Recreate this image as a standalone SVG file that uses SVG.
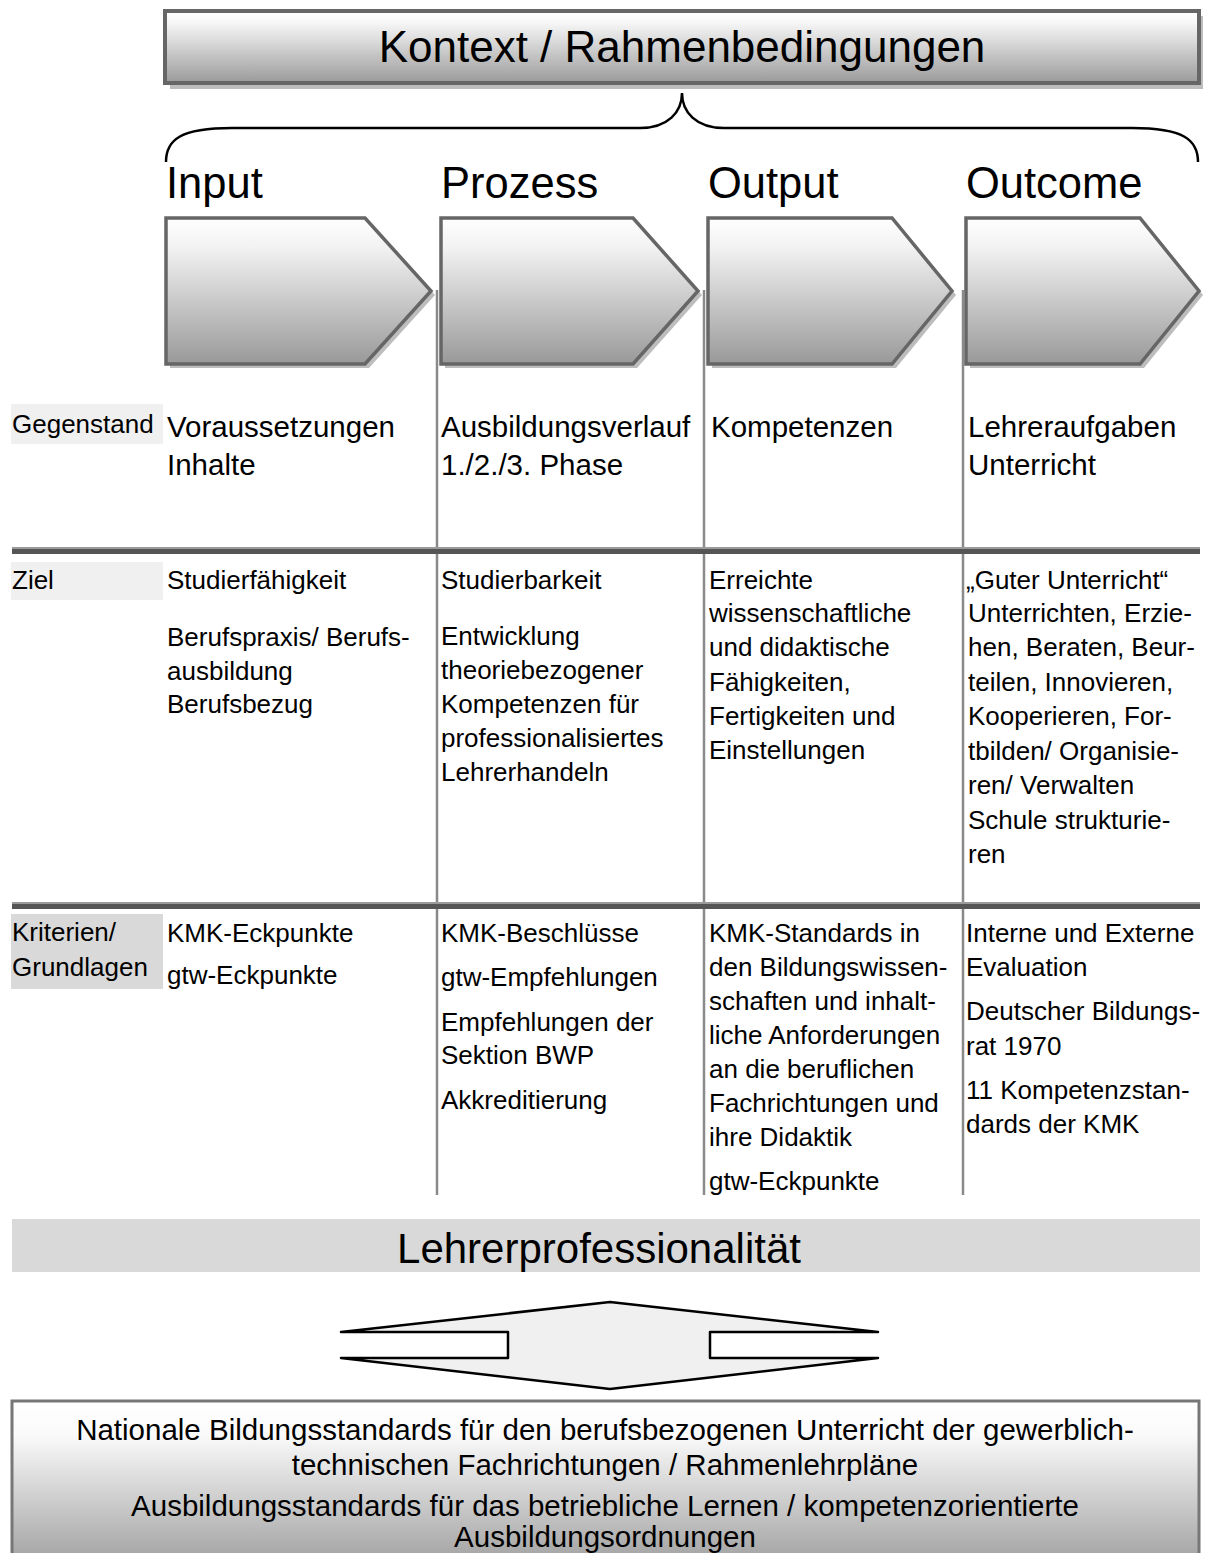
<svg xmlns="http://www.w3.org/2000/svg" width="1206" height="1553" viewBox="0 0 1206 1553">
<defs>
<linearGradient id="gTop" x1="0" y1="0" x2="0" y2="1">
<stop offset="0" stop-color="#ffffff"/><stop offset="0.15" stop-color="#f8f8f8"/><stop offset="1" stop-color="#9a9a9a"/>
</linearGradient>
<linearGradient id="gChev" x1="0" y1="0" x2="0" y2="1">
<stop offset="0" stop-color="#ffffff"/><stop offset="0.2" stop-color="#f2f2f2"/><stop offset="1" stop-color="#999999"/>
</linearGradient>
<linearGradient id="gBot" x1="0" y1="0" x2="0" y2="1">
<stop offset="0" stop-color="#ffffff"/><stop offset="0.2" stop-color="#fafafa"/><stop offset="1" stop-color="#9c9c9c"/>
</linearGradient>
<style>
text{font-family:"Liberation Sans",Arial,sans-serif;fill:#000}
.big{font-size:43.5px}
.hd{font-size:29.5px}
.bd{font-size:26px}
.lb{font-size:26px}
.bt{font-size:29.5px}
.chev{fill:url(#gChev);stroke:#666;stroke-width:3.5;stroke-linejoin:miter}
.shadow{fill:#bdbdbd}
.vline{stroke:#8a8a8a;stroke-width:2.5;fill:none}
.sep{fill:#555}
.sepl{fill:#9a9a9a}
</style>
</defs>

<g id="connectors">
<path d="M166,162 C166,140 180,128 232,128 L640,128 C668,128 682,112 682,93 C682,112 696,128 724,128 L1132,128 C1184,128 1198,140 1198,162" fill="none" stroke="#000" stroke-width="2.5"/>
<line class="vline" x1="437" y1="290" x2="437" y2="1195"/>
<line class="vline" x1="704" y1="290" x2="704" y2="1195"/>
<line class="vline" x1="963" y1="290" x2="963" y2="1195"/>
<rect class="sepl" x="12" y="547" width="1188" height="2"/>
<rect class="sep" x="12" y="549" width="1188" height="5"/>
<rect class="sepl" x="12" y="902" width="1188" height="2"/>
<rect class="sep" x="12" y="904" width="1188" height="5"/>
</g>

<g id="context">
<rect class="shadow" x="170" y="16" width="1033" height="73"/>
<rect x="165" y="11" width="1034" height="72" fill="url(#gTop)" stroke="#666" stroke-width="4"/>
<text x="682" y="62" font-size="44" text-anchor="middle">Kontext / Rahmenbedingungen</text>
</g>

<g id="input">
<text class="big" x="166" y="198">Input</text>
<polygon class="shadow" points="170,222 369,222 435,295 369,368 170,368"/>
<polygon class="chev" points="166,218 365,218 431,291 365,364 166,364"/>
</g>
<g id="prozess">
<text class="big" x="441" y="198">Prozess</text>
<polygon class="shadow" points="445,222 637,222 702,295 637,368 445,368"/>
<polygon class="chev" points="441,218 633,218 698,291 633,364 441,364"/>
</g>
<g id="output">
<text class="big" x="708" y="198">Output</text>
<polygon class="shadow" points="712,222 896,222 956,295 896,368 712,368"/>
<polygon class="chev" points="708,218 892,218 952,291 892,364 708,364"/>
</g>
<g id="outcome">
<text class="big" x="966" y="198">Outcome</text>
<polygon class="shadow" points="970,222 1144,222 1203,295 1144,368 970,368"/>
<polygon class="chev" points="966,218 1140,218 1199,291 1140,364 966,364"/>
</g>

<g id="row-gegenstand">
<rect x="11" y="404" width="152" height="40" fill="#f0f0f0"/>
<text class="lb" x="12" y="433">Gegenstand</text>
<text class="hd" x="167" y="437">Voraussetzungen</text>
<text class="hd" x="167" y="475">Inhalte</text>
<text class="hd" x="441" y="437">Ausbildungsverlauf</text>
<text class="hd" x="441" y="475">1./2./3. Phase</text>
<text class="hd" x="711" y="437">Kompetenzen</text>
<text class="hd" x="968" y="437">Lehreraufgaben</text>
<text class="hd" x="968" y="475">Unterricht</text>
</g>

<g id="row-ziel">
<rect x="11" y="562" width="152" height="38" fill="#f0f0f0"/>
<text class="lb" x="12" y="589">Ziel</text>
<text class="bd" x="167" y="589">Studierfähigkeit</text>
<text class="bd" x="167" y="646">Berufspraxis/ Berufs-</text>
<text class="bd" x="167" y="680">ausbildung</text>
<text class="bd" x="167" y="713">Berufsbezug</text>
<text class="bd" x="441" y="589">Studierbarkeit</text>
<text class="bd" x="441" y="645">Entwicklung</text>
<text class="bd" x="441" y="679">theoriebezogener</text>
<text class="bd" x="441" y="713">Kompetenzen für</text>
<text class="bd" x="441" y="747">professionalisiertes</text>
<text class="bd" x="441" y="781">Lehrerhandeln</text>
<text class="bd" x="709" y="589">Erreichte</text>
<text class="bd" x="709" y="622">wissenschaftliche</text>
<text class="bd" x="709" y="656">und didaktische</text>
<text class="bd" x="709" y="691">Fähigkeiten,</text>
<text class="bd" x="709" y="725">Fertigkeiten und</text>
<text class="bd" x="709" y="759">Einstellungen</text>
<text class="bd" x="966" y="589">„Guter Unterricht“</text>
<text class="bd" x="968" y="622">Unterrichten, Erzie-</text>
<text class="bd" x="968" y="656">hen, Beraten, Beur-</text>
<text class="bd" x="968" y="691">teilen, Innovieren,</text>
<text class="bd" x="968" y="725">Kooperieren, For-</text>
<text class="bd" x="968" y="760">tbilden/ Organisie-</text>
<text class="bd" x="968" y="794">ren/ Verwalten</text>
<text class="bd" x="968" y="829">Schule strukturie-</text>
<text class="bd" x="968" y="863">ren</text>
</g>

<g id="row-kriterien">
<rect x="11" y="914" width="152" height="75" fill="#d9d9d9"/>
<text class="lb" x="12" y="941">Kriterien/</text>
<text class="lb" x="12" y="976">Grundlagen</text>
<text class="bd" x="167" y="942">KMK-Eckpunkte</text>
<text class="bd" x="167" y="984">gtw-Eckpunkte</text>
<text class="bd" x="441" y="942">KMK-Beschlüsse</text>
<text class="bd" x="441" y="986">gtw-Empfehlungen</text>
<text class="bd" x="441" y="1031">Empfehlungen der</text>
<text class="bd" x="441" y="1064">Sektion BWP</text>
<text class="bd" x="441" y="1109">Akkreditierung</text>
<text class="bd" x="709" y="942">KMK-Standards in</text>
<text class="bd" x="709" y="976">den Bildungswissen-</text>
<text class="bd" x="709" y="1010">schaften und inhalt-</text>
<text class="bd" x="709" y="1044">liche Anforderungen</text>
<text class="bd" x="709" y="1078">an die beruflichen</text>
<text class="bd" x="709" y="1112">Fachrichtungen und</text>
<text class="bd" x="709" y="1146">ihre Didaktik</text>
<text class="bd" x="709" y="1190">gtw-Eckpunkte</text>
<text class="bd" x="966" y="942">Interne und Externe</text>
<text class="bd" x="966" y="976">Evaluation</text>
<text class="bd" x="966" y="1020">Deutscher Bildungs-</text>
<text class="bd" x="966" y="1055">rat 1970</text>
<text class="bd" x="966" y="1099">11 Kompetenzstan-</text>
<text class="bd" x="966" y="1133">dards der KMK</text>
</g>

<g id="lehrerprofessionalitaet">
<rect x="12" y="1219" width="1188" height="53" fill="#d9d9d9"/>
<text x="599" y="1263" font-size="42" text-anchor="middle">Lehrerprofessionalität</text>
</g>

<g id="double-arrow">
<polygon points="341,1332 610,1302 878,1332 710,1332 710,1358 878,1358 610,1389 341,1358 508,1358 508,1332" fill="#f0f0f0" stroke="#000" stroke-width="2.5" stroke-linejoin="round"/>
</g>

<g id="standards">
<rect x="12" y="1401" width="1187" height="170" fill="url(#gBot)" stroke="#777" stroke-width="3"/>
<text class="bt" x="605" y="1440" text-anchor="middle">Nationale Bildungsstandards für den berufsbezogenen Unterricht der gewerblich-</text>
<text class="bt" x="605" y="1475" text-anchor="middle">technischen Fachrichtungen / Rahmenlehrpläne</text>
<text class="bt" x="605" y="1516" text-anchor="middle">Ausbildungsstandards für das betriebliche Lernen / kompetenzorientierte</text>
<text class="bt" x="605" y="1547" text-anchor="middle" font-size="28">Ausbildungsordnungen</text>
</g>
</svg>
